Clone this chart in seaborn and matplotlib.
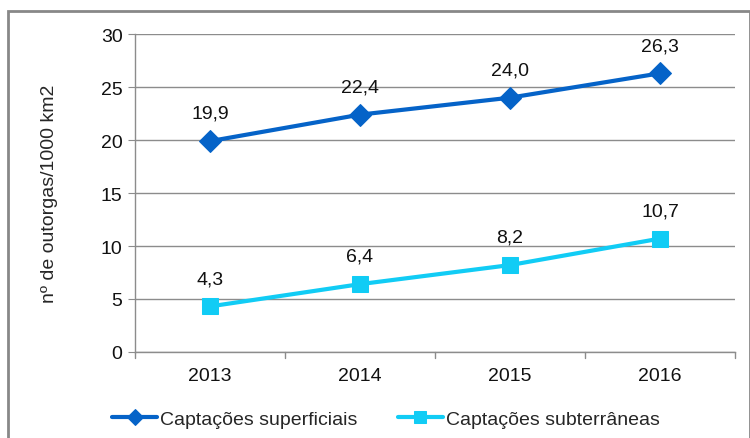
import matplotlib.pyplot as plt
import pandas as pd
import seaborn as sns
from matplotlib.patches import Rectangle

# Data
years = ['2013', '2014', '2015', '2016']
superficiais = [19.9, 22.4, 24.0, 26.3]
subterraneas = [4.3, 6.4, 8.2, 10.7]
series_names = ['Captações superficiais', 'Captações subterrâneas']

df = pd.DataFrame({
    'ano': years * 2,
    'valor': superficiais + subterraneas,
    'serie': [series_names[0]] * len(years) + [series_names[1]] * len(years),
})

sns.set_style('white')
plt.rcParams['font.family'] = ['Liberation Sans', 'DejaVu Sans']
FS = 14

fig = plt.figure(figsize=(7.5, 4.39), dpi=100)
ax = fig.add_axes([0.18, 0.196, 0.80, 0.724])

colors = {series_names[0]: '#0563C8', series_names[1]: '#11CCF5'}
markers = {series_names[0]: 'D', series_names[1]: 's'}
msize = {series_names[0]: 11, series_names[1]: 12}

for name in series_names:
    sub = df[df['serie'] == name]
    sns.lineplot(data=sub, x='ano', y='valor', ax=ax, color=colors[name],
                 marker=markers[name], markersize=msize[name], linewidth=3,
                 markeredgecolor=colors[name], label=name, sort=False)
    for x, v in zip(sub['ano'], sub['valor']):
        ax.annotate(f'{v:.1f}'.replace('.', ','), (x, v), xytext=(0, 20),
                    textcoords='offset points', ha='center', va='center',
                    fontsize=FS, color='#111111')

ax.set_xlim(-0.5, len(years) - 0.5)
ax.set_ylim(0, 30)
ax.set_yticks(range(0, 31, 5))
ax.grid(axis='y', color='#8c8c8c', linewidth=1)
ax.set_axisbelow(True)
ax.set_xlabel('')
ax.set_ylabel('nº de outorgas/1000 km2', fontsize=FS)
ax.yaxis.set_label_coords(-0.128, 0.5)
ax.tick_params(axis='both', labelsize=FS, colors='#111111')
ax.tick_params(axis='y', length=5, color='#8c8c8c', left=True, pad=4)
ax.tick_params(axis='x', bottom=False, pad=7)

# category boundary ticks below the x axis
for b in [i - 0.5 for i in range(len(years) + 1)]:
    ax.plot([b, b], [0, -0.6], color='#8c8c8c', lw=1, clip_on=False)

for s in ['top', 'right']:
    ax.spines[s].set_visible(False)
for s in ['left', 'bottom']:
    ax.spines[s].set_color('#8c8c8c')
    ax.spines[s].set_linewidth(1)

leg = ax.legend(loc='center left', bbox_to_anchor=(-0.038, -0.212), ncol=2,
                frameon=False, fontsize=FS, handlelength=2.3, columnspacing=2.1,
                handletextpad=0.15, borderaxespad=0, borderpad=0)
for h in leg.legend_handles:
    h.set_markersize(8)

# outer chart frame
fig.patches.append(Rectangle((8 / 750, -0.05), 0.99, 1 - 12 / 439 + 0.05,
                             transform=fig.transFigure, fill=False,
                             edgecolor='#888888', linewidth=2))

fig.savefig('out.png', dpi=100)
